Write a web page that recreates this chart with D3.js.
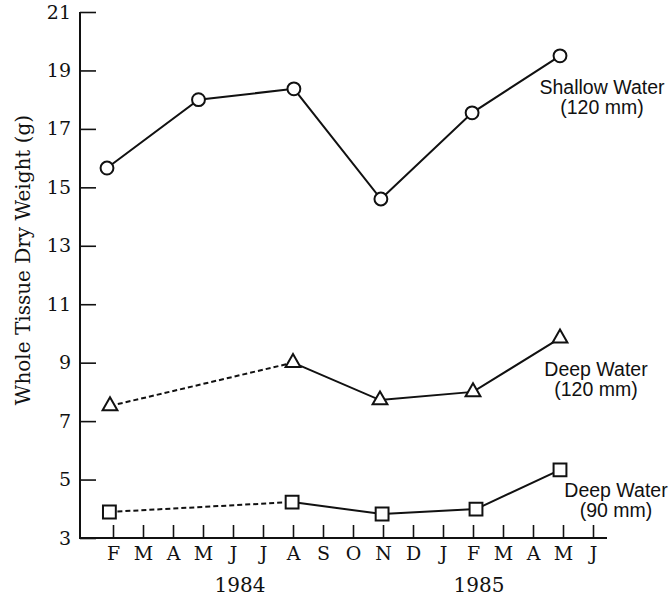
<!DOCTYPE html>
<html>
<head>
<meta charset="utf-8">
<script src="https://cdn.jsdelivr.net/npm/d3@7"></script>
<style>
  body { margin: 0; background: #fff; }
  svg text { fill: #111; }
</style>
</head>
<body>
<div id="chart"></div>
<script>
// months counted from Feb 1984 (0) to Jun 1985 (16)
const monthLabels = ["F", "M", "A", "M", "J", "J", "A", "S", "O", "N", "D", "J", "F", "M", "A", "M", "J"];
const yTicks = [3, 5, 7, 9, 11, 13, 15, 17, 19, 21];

const shallowMonths = [-0.2, 2.85, 6.03, 8.93, 11.97, 14.9];
const shallowValues = [15.66, 18.0, 18.37, 14.6, 17.55, 19.5];

const deep120Months = [-0.1, 6.0, 8.9, 12.0, 14.9];
const deep120Values = [7.52, 9.0, 7.72, 8.0, 9.84];

const deep90Months = [-0.12, 5.97, 8.97, 12.1, 14.9];
const deep90Values = [3.89, 4.23, 3.82, 3.99, 5.33];

const width = 672, height = 599;
const serif = "'DejaVu Serif', serif";
const sans = "'Liberation Sans', Arial, sans-serif";

let svg = d3.select("#chart").append("svg")
    .attr("width", width).attr("height", height);

let x = d3.scaleLinear().domain([0, 16]).range([113, 593]);
let y = d3.scaleLinear().domain([3, 21]).range([538, 12]);

// axes
let yAxis = d3.axisLeft(y).tickValues(yTicks).tickSize(-16).tickPadding(9);
let gy = svg.append("g").attr("transform", "translate(80,0)").call(yAxis);
gy.select(".domain").remove();
gy.selectAll(".tick line").attr("stroke", "#111").attr("stroke-width", 1.6);
gy.selectAll(".tick text").attr("font-family", serif).attr("font-size", 19).attr("fill", "#111");

let xAxis = d3.axisBottom(x).tickValues(d3.range(17)).tickFormat(i => monthLabels[i])
    .tickSize(-13).tickPadding(9);
let gx = svg.append("g").attr("transform", "translate(0,538)").call(xAxis);
gx.select(".domain").remove();
gx.selectAll(".tick line").attr("stroke", "#111").attr("stroke-width", 1.6);
gx.selectAll(".tick text").attr("font-family", serif).attr("font-size", 19).attr("fill", "#111");

svg.append("line").attr("x1", 80).attr("x2", 80).attr("y1", y(21)).attr("y2", y(3) + 1)
    .attr("stroke", "#111").attr("stroke-width", 2);
svg.append("line").attr("x1", 79).attr("x2", 607).attr("y1", y(3)).attr("y2", y(3))
    .attr("stroke", "#111").attr("stroke-width", 2);

// year labels
svg.append("text").attr("x", 240).attr("y", 592).attr("text-anchor", "middle")
    .attr("font-family", serif).attr("font-size", 20).text("1984");
svg.append("text").attr("x", 479).attr("y", 592).attr("text-anchor", "middle")
    .attr("font-family", serif).attr("font-size", 20).text("1985");

// y title
svg.append("text")
    .attr("transform", "translate(30,260) rotate(-90)")
    .attr("text-anchor", "middle")
    .attr("font-family", serif).attr("font-size", 20)
    .text("Whole Tissue Dry Weight (g)");

const line = d3.line().x(d => x(d[0])).y(d => y(d[1]));

function drawSeries(months, values, symbol, size, dashedFirst) {
    let pts = months.map((m, i) => [m, values[i]]);
    let g = svg.append("g");
    if (dashedFirst) {
        g.append("path").attr("d", line(pts.slice(0, 2)))
            .attr("fill", "none").attr("stroke", "#111").attr("stroke-width", 2)
            .attr("stroke-dasharray", "5,3");
        g.append("path").attr("d", line(pts.slice(1)))
            .attr("fill", "none").attr("stroke", "#111").attr("stroke-width", 2);
    } else {
        g.append("path").attr("d", line(pts))
            .attr("fill", "none").attr("stroke", "#111").attr("stroke-width", 2);
    }
    g.selectAll("path.mark").data(pts).enter().append("path")
        .attr("class", "mark")
        .attr("d", d3.symbol().type(symbol).size(size))
        .attr("transform", d => "translate(" + x(d[0]) + "," + y(d[1]) + ")")
        .attr("fill", "#fff").attr("stroke", "#111").attr("stroke-width", 2);
}

drawSeries(shallowMonths, shallowValues, d3.symbolCircle, 130, false);
drawSeries(deep120Months, deep120Values, d3.symbolTriangle, 95, true);
drawSeries(deep90Months, deep90Values, d3.symbolSquare, 165, true);

// series labels
function label(lines, cx, by) {
    lines.forEach((t, i) => {
        svg.append("text").attr("x", cx).attr("y", by + i * 20)
            .attr("text-anchor", "middle").attr("font-family", sans).attr("font-size", 19.5)
            .text(t);
    });
}
label(["Shallow Water", "(120 mm)"], 602, 94);
label(["Deep Water", "(120 mm)"], 596, 376);
label(["Deep Water", "(90 mm)"], 616, 497);
</script>
</body>
</html>
